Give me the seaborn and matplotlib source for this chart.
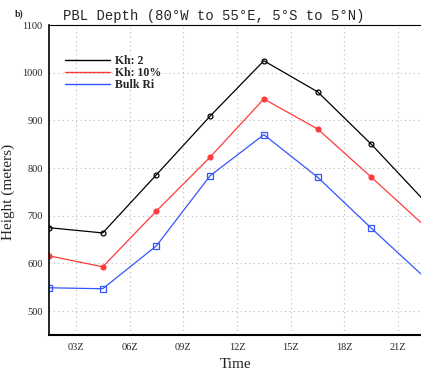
import numpy as np
import pandas as pd
import matplotlib
matplotlib.use("Agg")
import matplotlib.pyplot as plt
import seaborn as sns

# --- data ---
hours = [1.5, 4.5, 7.5, 10.5, 13.5, 16.5, 19.5, 22.5]
kh2 = [675, 664, 786, 909, 1025, 960, 850, 730]
kh10 = [616, 593, 710, 823, 945, 882, 781, 678]
bulk_ri = [549, 547, 637, 784, 870, 781, 674, 570]
tick_hours = [3, 6, 9, 12, 15, 18, 21]
tick_labels = ["03Z", "06Z", "09Z", "12Z", "15Z", "18Z", "21Z"]

sns.set_style("white")
plt.rcParams['font.family'] = ['Liberation Serif', 'DejaVu Serif']

fig = plt.figure(figsize=(4.21, 3.70), dpi=100)
ax = fig.add_axes([0.1164, 0.0946, 0.8846, 0.8378])

series = [
    ("Kh: 2", kh2, "black", "o", "none"),
    ("Kh: 10%", kh10, "#ff3a3a", "o", "#ff3a3a"),
    ("Bulk Ri", bulk_ri, "#3355ff", "s", "none"),
]
for name, vals, col, mk, fc in series:
    df = pd.DataFrame({"Time": hours, "Height": vals})
    sns.lineplot(data=df, x="Time", y="Height", ax=ax, color=col, lw=0.9,
                 marker=mk, markersize=3.5 if mk == "o" else 4,
                 markerfacecolor=fc, markeredgecolor=col, markeredgewidth=0.9,
                 label=name)

ax.set_xlim(1.5, 22.3)
ax.set_ylim(450, 1100)
ax.set_yticks([500, 600, 700, 800, 900, 1000, 1100])
ax.set_xticks(tick_hours)
ax.set_xticklabels(tick_labels)
ax.tick_params(axis="both", labelsize=7.5, length=2.5, width=0.8, direction="out", pad=2)
ax.tick_params(axis="x", length=0, pad=6)
ax.grid(True, color="#bbbbbb", linestyle=(0, (1, 3)), lw=0.8)

ax.spines["right"].set_visible(False)
ax.spines["top"].set_linestyle((0, (2, 1)))
ax.spines["top"].set_linewidth(0.8)
ax.spines["left"].set_linewidth(1.2)
ax.spines["bottom"].set_linewidth(1.5)
for s in ax.spines.values():
    s.set_color("black")

ax.set_xlabel("Time", fontsize=11)
ax.set_ylabel("Height (meters)", fontsize=11)
ax.xaxis.set_label_coords(0.5, -0.075)
ax.yaxis.set_label_coords(-0.09, 0.46)

leg = ax.legend(loc="upper left", bbox_to_anchor=(0.02, 0.93), frameon=False,
                fontsize=8.5, handlelength=3.8, handletextpad=0.5,
                labelspacing=0.0, borderpad=0.2)
for h in leg.get_lines():
    h.set_marker("")
    h.set_linewidth(1.0)
for t in leg.get_texts():
    t.set_fontweight("bold")

fig.text(0.508, 0.975, "PBL Depth (80°W to 55°E, 5°S to 5°N)",
         ha="center", va="top", fontsize=10, family="Liberation Mono")
fig.text(0.035, 0.975, "b)", ha="left", va="top", fontsize=7, fontweight="bold")

fig.savefig("out.png", dpi=100)
